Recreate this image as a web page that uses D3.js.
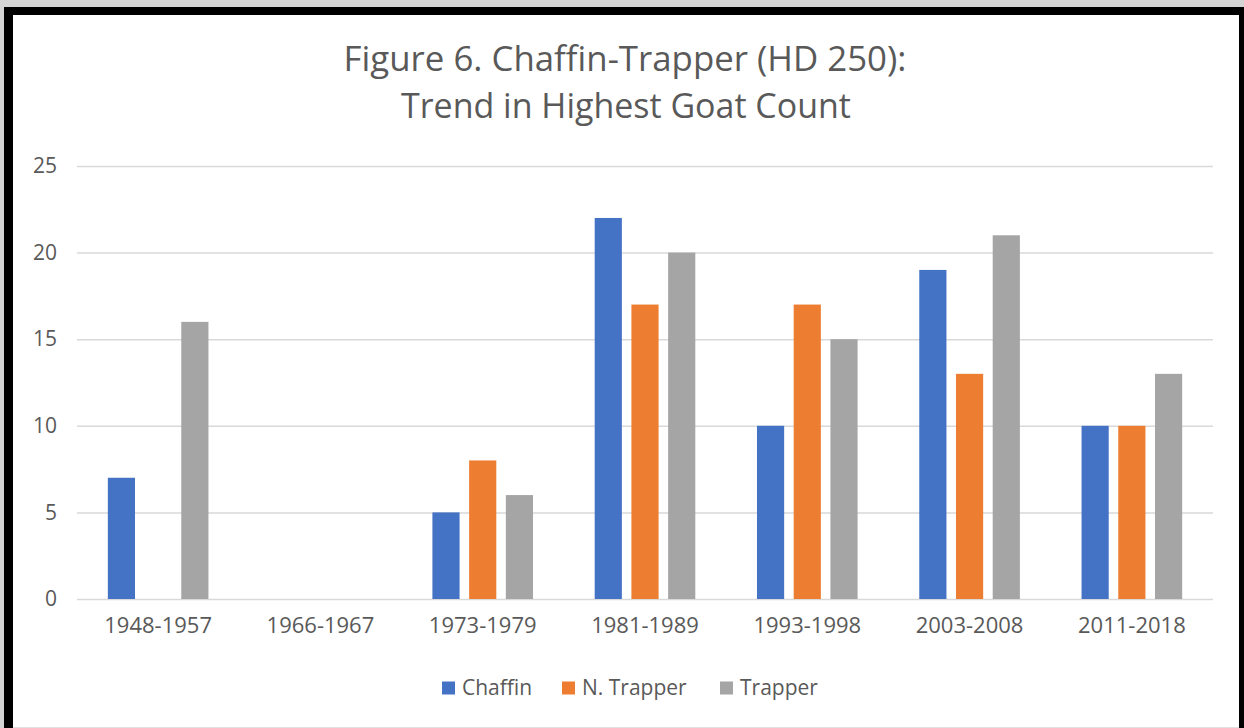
<!DOCTYPE html>
<html>
<head>
<meta charset="utf-8">
<script src="https://cdn.jsdelivr.net/npm/d3@7"></script>
<style>
  html, body { margin: 0; padding: 0; background: #d6d6d6; }
  svg { display: block; }
</style>
</head>
<body>
<svg id="chart" width="1244" height="728"></svg>
<script>
// Highest goat count per survey period, by area
const categories = ["1948-1957", "1966-1967", "1973-1979", "1981-1989", "1993-1998", "2003-2008", "2011-2018"];
const seriesNames = ["Chaffin", "N. Trapper", "Trapper"];
const chaffin   = [7, null, 5, 22, 10, 19, 10];
const nTrapper  = [null, null, 8, 17, 17, 13, 10];
const trapper   = [16, null, 6, 20, 15, 21, 13];
const seriesColors = ["#4472C4", "#ED7D31", "#A5A5A5"];
const yTicks = [0, 5, 10, 15, 20, 25];
const titleLines = ["Figure 6. Chaffin-Trapper (HD 250):", "Trend in Highest Goat Count"];

const seriesValues = [chaffin, nTrapper, trapper];
const FONT = "'Open Sans', 'Noto Sans', sans-serif";
const TEXT = "#595959";

const svg = d3.select("#chart");

// Frame: grey surround, black border, white chart area
svg.append("rect").attr("x", 0).attr("y", 0).attr("width", 1244).attr("height", 728).attr("fill", "#d4d4d4");
svg.append("rect").attr("x", 4).attr("y", 7).attr("width", 1240).attr("height", 721).attr("fill", "#000");
svg.append("rect").attr("x", 13).attr("y", 15).attr("width", 1226).attr("height", 713).attr("fill", "#fff");
svg.append("line").attr("x1", 13).attr("x2", 1239).attr("y1", 727.5).attr("y2", 727.5)
  .attr("stroke", "#e2e2e2").attr("stroke-width", 1);

const plot = { left: 77, right: 1213, top: 166, bottom: 599 };

const x0 = d3.scaleBand()
  .domain(categories)
  .range([plot.left, plot.right])
  .paddingInner(0.38)
  .paddingOuter(0.19);

const x1 = d3.scaleBand()
  .domain(seriesNames)
  .range([0, x0.bandwidth()])
  .paddingInner(0.26);

const y = d3.scaleLinear().domain([0, 25]).range([plot.bottom, plot.top]);

// Gridlines and y labels
const yAxis = d3.axisLeft(y)
  .tickValues(yTicks)
  .tickSize(-(plot.right - plot.left))
  .tickPadding(20)
  .tickFormat(d3.format("d"));

const gy = svg.append("g").attr("transform", `translate(${plot.left},0)`).call(yAxis);
gy.select(".domain").remove();
gy.selectAll(".tick line").attr("stroke", "#d9d9d9").attr("stroke-width", 1.5);
gy.selectAll(".tick text")
  .attr("fill", TEXT)
  .style("font-family", FONT)
  .style("font-size", "21px");

// Category labels
const xAxis = d3.axisBottom(x0).tickSize(0).tickPadding(23);
const gx = svg.append("g").attr("transform", `translate(0,${plot.bottom})`).call(xAxis);
gx.select(".domain").remove();
gx.selectAll(".tick text")
  .attr("fill", TEXT)
  .style("font-family", FONT)
  .style("font-size", "22px")
  .attr("dy", "0.5em");

// Bars
const barData = [];
categories.forEach((c, i) => {
  seriesNames.forEach((s, j) => {
    const v = seriesValues[j][i];
    if (v !== null && v !== undefined) barData.push({ category: c, series: s, value: v, color: seriesColors[j] });
  });
});

svg.append("g").selectAll("rect")
  .data(barData)
  .join("rect")
  .attr("x", d => x0(d.category) + x1(d.series))
  .attr("y", d => y(d.value))
  .attr("width", x1.bandwidth())
  .attr("height", d => y(0) - y(d.value))
  .attr("fill", d => d.color);

// Title lines, each sized to its measured span
const titleSpecs = [
  { text: titleLines[0], x: 625, y: 71, width: 563 },
  { text: titleLines[1], x: 626, y: 118, width: 450 }
];
titleSpecs.forEach(spec => {
  const t = svg.append("text")
    .attr("x", spec.x).attr("y", spec.y)
    .attr("text-anchor", "middle")
    .attr("fill", TEXT)
    .style("font-family", FONT)
    .style("font-size", "30px")
    .text(spec.text);
  const w = t.node().getComputedTextLength();
  t.style("font-size", (30 * spec.width / w) + "px");
});

// Legend
const legendX = [442, 562, 720];
const legend = svg.append("g");
seriesNames.forEach((s, j) => {
  const g = legend.append("g").attr("transform", `translate(${legendX[j]},688)`);
  g.append("rect").attr("x", 0).attr("y", -6.5).attr("width", 13).attr("height", 13).attr("fill", seriesColors[j]);
  g.append("text")
    .attr("x", 20).attr("y", 0).attr("dy", "0.35em")
    .attr("fill", TEXT)
    .style("font-family", FONT)
    .style("font-size", "21px")
    .text(s);
});
</script>
</body>
</html>
